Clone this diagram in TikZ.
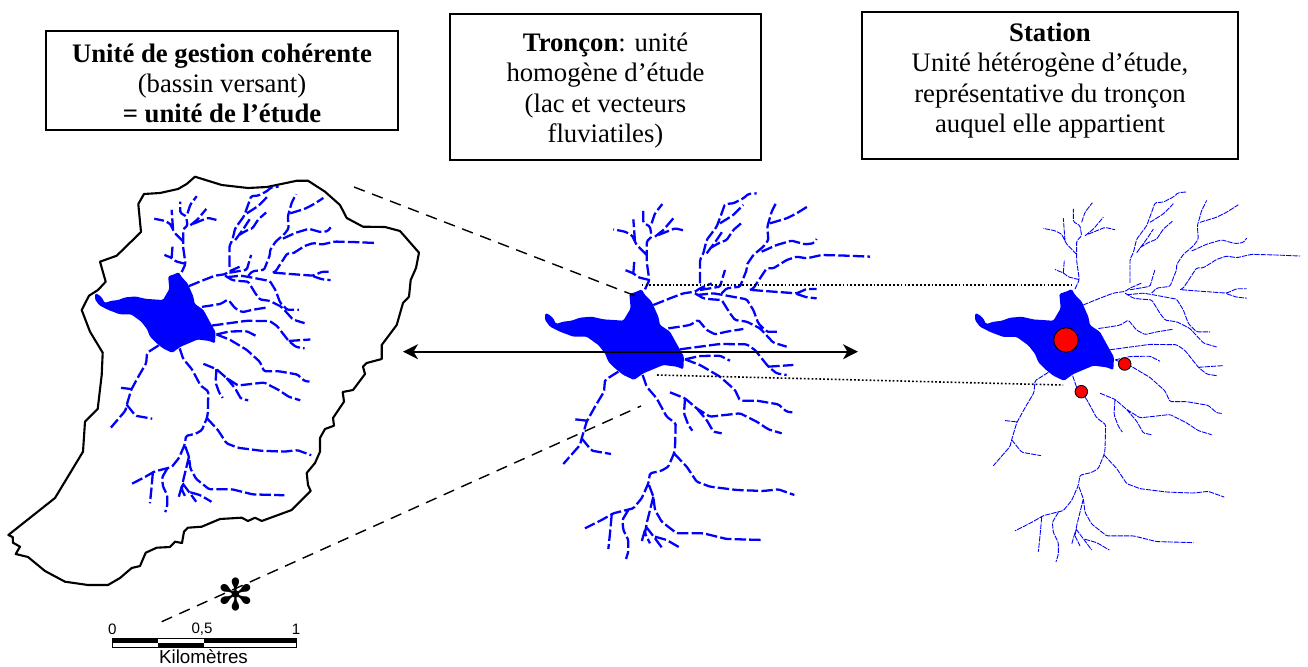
\documentclass[tikz,border=0pt]{standalone}
\usepackage{fontspec}
\setmainfont{Liberation Serif}
\setsansfont{Liberation Sans}
\newfontfamily\symfont{DejaVu Sans}
\usepackage{tikz}
\usetikzlibrary{positioning, calc, arrows.meta}

% --- Lake and streams, in crop coordinates ---
\newcommand{\riverbasin}[1]{
    \draw[#1, rounded corners=0.8pt]
    % north-west tree
    (345,298) -- (358,270) -- (350,215) -- (350,155) -- (365,140) -- (360,110) -- (340,98) -- (340,60)
    (350,195) -- (320,165) -- (305,135) -- (285,125) -- (250,118)
    (315,155) -- (310,88)
    (365,100) -- (375,70) -- (397,42)
    (375,140) -- (400,120) -- (430,85)
    (385,135) -- (410,125) -- (435,115) -- (465,122)
    (358,270) -- (325,262) -- (310,250) -- (285,240)
    (310,250) -- (313,212)
    % north-east tree
    (370,345) -- (420,325) -- (460,310) -- (495,305) -- (510,295) -- (545,280)
    (495,310) -- (520,325) -- (545,328) -- (575,330) -- (600,370) -- (615,390) -- (650,395) -- (690,415) -- (730,458) -- (770,470)
    (510,280) -- (510,210) -- (520,190) -- (530,150) -- (560,110) -- (575,70) -- (585,42) -- (610,40) -- (640,25) -- (655,12) -- (680,10)
    (570,100) -- (610,75) -- (640,45)
    (530,190) -- (560,150) -- (580,120)
    (540,175) -- (565,160) -- (590,150) -- (610,120) -- (637,97)
    (510,300) -- (540,295) -- (570,290) -- (585,240)
    (500,315) -- (550,310) -- (580,315) -- (650,328) -- (670,360) -- (685,400) -- (710,425) -- (750,425)
    (575,310) -- (590,295) -- (630,290) -- (650,240) -- (650,225) -- (670,195) -- (700,170) -- (715,150) -- (712,110) -- (725,65) -- (740,35)
    (720,100) -- (770,85) -- (800,70) -- (835,48)
    (695,185) -- (740,165) -- (785,152) -- (825,163) -- (850,160) -- (860,147)
    (660,300) -- (670,295) -- (710,235) -- (730,235) -- (770,210) -- (800,200) -- (830,205) -- (875,195) -- (950,197) -- (1020,200)
    (665,300) -- (730,305) -- (800,310) -- (830,297) -- (860,297)
    (800,312) -- (830,322) -- (860,325)
    % east streams
    (415,415) -- (450,410) -- (480,405) -- (505,390) -- (530,420) -- (555,433) -- (590,425) -- (640,417)
    (450,478) -- (510,470) -- (570,462) -- (650,463) -- (675,480) -- (715,530) -- (740,550) -- (770,555)
    (715,530) -- (790,525)
    (465,508) -- (510,498) -- (570,497) -- (600,512)
    (465,508) -- (510,525) -- (570,560) -- (615,600) -- (630,632) -- (680,632) -- (745,643) -- (770,665) -- (787,667)
    (420,607) -- (465,625) -- (500,655) -- (540,680) -- (630,670) -- (680,695) -- (715,718) -- (755,730)
    (465,625) -- (462,670) -- (475,705) -- (487,722)
    (500,655) -- (530,690) -- (550,725) -- (575,730)
    % south tree
    (338,555) -- (350,590) -- (380,625) -- (410,680) -- (437,700) -- (435,775) -- (432,790) -- (415,830) -- (395,842) -- (360,850) -- (355,880) -- (335,925) -- (310,955) -- (250,970) -- (215,990) -- (165,1015)
    (432,790) -- (470,830) -- (500,875) -- (540,890) -- (620,900) -- (700,903) -- (745,898) -- (793,915)
    (357,885) -- (370,920) -- (375,960) -- (395,995) -- (440,1030) -- (520,1030) -- (590,1047) -- (700,1050)
    (370,920) -- (350,1000) -- (345,1030) -- (360,1060)
    (345,1020) -- (335,1055)
    (348,1010) -- (375,1045) -- (395,1072)
    (375,1040) -- (410,1050) -- (448,1072)
    (245,975) -- (240,1030) -- (235,1077)
    (295,960) -- (277,990) -- (280,1020) -- (295,1050) -- (295,1085) -- (288,1107)
    % south-west stream
    (265,545) -- (225,570) -- (222,605) -- (195,650) -- (170,695) -- (155,745) -- (150,765) -- (100,822)
    (170,692) -- (135,688)
    (155,745) -- (185,782) -- (243,792);
    \fill[blue, rounded corners=0.8pt]
    (45,370) -- (55,372) -- (70,385) -- (78,402) -- (100,395) -- (125,392) -- (150,383) -- (185,380) -- (220,388) -- (280,392) -- (302,355) -- (298,312) -- (320,305) -- (335,298) -- (345,315) -- (365,335) -- (385,380) -- (390,405) -- (420,425) -- (445,470) -- (462,500) -- (460,538) -- (440,530) -- (400,525) -- (340,550) -- (312,570) -- (280,555) -- (255,535) -- (235,515) -- (225,490) -- (205,465) -- (170,440) -- (130,440) -- (90,425) -- (60,410) -- (45,390) -- cycle;
}

\begin{document}
\begin{tikzpicture}[
        x=0.02cm, y=-0.02cm,
        >={Stealth[length=8.5pt, width=8.5pt, inset=2.5pt]},
        infobox/.style={draw, line width=0.8pt},
        infotext/.style={align=center, inner sep=0pt, font=\fontsize{15.2}{17.2}\selectfont},
        basinline/.style={line width=1.2pt, line join=round},
        thickriver/.style={blue, line width=1.3pt, dash pattern=on 6.5pt off 1.8pt},
        thinriver/.style={blue, line width=0.5pt, dash pattern=on 3pt off 0.6pt},
        guide/.style={line width=0.8pt, dash pattern=on 6.5pt off 4.5pt},
        dotline/.style={line width=0.9pt, dash pattern=on 1pt off 1.2pt},
        station/.style={circle, draw, line width=0.5pt, fill=red, inner sep=0pt},
        scalelabel/.style={font=\sffamily\fontsize{8.6}{10}\selectfont}
    ]
    \useasboundingbox (0,0) rectangle (1308,666);

    % --- Text boxes ---
    \node[infobox, minimum width=7.04cm, minimum height=1.98cm] (unit) at (222,80.5) {};
    \node[infotext] (unittext) at ($(unit.center)+(0,3)$) {\textbf{Unité de gestion cohérente}\\(bassin versant)\\\textbf{= unité de l’étude}};
    \node[infobox, minimum width=6.22cm, minimum height=2.92cm] (reach) at (605.5,87) {};
    \node[infotext] (reachtext) at ($(reach.center)+(0,3.5)$) {\textbf{Tronçon}: unité\\homogène d’étude\\(lac et vecteurs\\fluviatiles)};
    \node[infobox, minimum width=7.52cm, minimum height=2.94cm] (site) at (1050,85.5) {};
    \node[infotext] (sitetext) at ($(site.center)+(0,-5)$) {\textbf{Station}\\Unité hétérogène d’étude,\\représentative du tronçon\\auquel elle appartient};

    % --- Catchment outline ---
    \draw[basinline] (195,176.7) -- (221.7,185) -- (248,188) -- (267,187) -- (297,180.7) -- (308,180.7) -- (325,191.7) -- (340,205) -- (346.7,218) -- (363,226.7) -- (385,227) -- (400,231) -- (419,252.7) -- (416,268) -- (410.7,280) -- (409,296.7) -- (403,303) -- (396.7,325) -- (381.7,345) -- (381.7,359) -- (366.7,363) -- (363,366.7) -- (365,374) -- (353,390) -- (342.7,392) -- (344,401.7) -- (333,418) -- (334,425.7) -- (325,429) -- (320,438) -- (320,451.7) -- (315,463) -- (306.7,473) -- (308,485) -- (310.7,491) -- (291.7,510) -- (261.7,521) -- (255,517.7) -- (248,521) -- (241.7,517.7) -- (220,519) -- (201.7,526.7) -- (188,527.7) -- (184,531.7) -- (182,543) -- (175,541.7) -- (170,547) -- (156.7,547.7) -- (145.7,552.7) -- (140,566) -- (131.7,568) -- (120,578) -- (108,585) -- (88,585) -- (65,581.7) -- (45,571) -- (28,557) -- (15.7,554) -- (20,546.7) -- (13,542.7) -- (12.7,537) -- (8.3,535) -- (55,498) -- (83,451.7) -- (85,421.7) -- (97.7,409) -- (101.7,375) -- (102.7,352.7) -- (90,331.7) -- (81.7,310) -- (89,295.7) -- (98,290) -- (105.7,281.7) -- (100,261.7) -- (116.7,255.7) -- (141,232) -- (138.3,204) -- (144,194) -- (160,193) -- (178,189) -- (186.7,184) -- cycle;

    % --- The three river networks ---
    \begin{scope}[shift={(82,183.7)}, x=0.00578cm, y=-0.00593cm]
        \riverbasin{thickriver}
    \end{scope}
    \begin{scope}[shift={(530,190)}, x=0.00667cm, y=-0.00667cm]
        \riverbasin{thickriver}
    \end{scope}
    \begin{scope}[shift={(960,188.6)}, x=0.00667cm, y=-0.00674cm]
        \riverbasin{thinriver}
    \end{scope}

    % --- Sampling stations ---
    \node[station, minimum size=0.49cm] (stationlake) at (1066,340) {};
    \node[station, minimum size=0.25cm] (stationeast) at (1124.7,364) {};
    \node[station, minimum size=0.25cm] (stationsouth) at (1081.3,391.7) {};

    % --- Zoom lines between the panels ---
    \coordinate (zoomA) at (354,187);
    \coordinate (zoomB) at (641,298);
    \coordinate (zoomC) at (161.7,621.7);
    \coordinate (zoomD) at (641,406);
    \coordinate (dotA) at (641.7,285);
    \coordinate (dotB) at (1071.7,285);
    \coordinate (dotC) at (657,375);
    \coordinate (dotD) at (1063,385);
    \coordinate (arrowA) at (403,351.7);
    \coordinate (arrowB) at (858,351.7);
    \draw[guide] (zoomA) -- (zoomB);
    \draw[guide] (zoomC) -- (zoomD);
    \draw[dotline] (dotA) -- (dotB);
    \draw[dotline] (dotC) -- (dotD);
    \draw[<->, line width=1.1pt] (arrowA) -- (arrowB);

    % Asterisk on the lower zoom line
    \node[inner sep=0pt, font=\symfont\fontsize{25}{25}\selectfont] (mark) at (236,594.5) {✻};

    % --- Scale bar ---
    \draw[line width=0.4pt] (112.3,638.5) rectangle (296.7,647.3);
    \fill (112.3,638.5) rectangle (158,643);
    \fill (158,643) rectangle (204,647.3);
    \fill (204,638.5) rectangle (296.7,643);
    \node[scalelabel] (zero) at (112.3,629) {0};
    \node[scalelabel] (half) at (202,629) {0,5};
    \node[scalelabel] (one) at (296,629) {1};
    \node[font=\sffamily\fontsize{10.7}{12}\selectfont, inner sep=0pt] (km) at (203.5,657) {Kilomètres};
\end{tikzpicture}
\end{document}
